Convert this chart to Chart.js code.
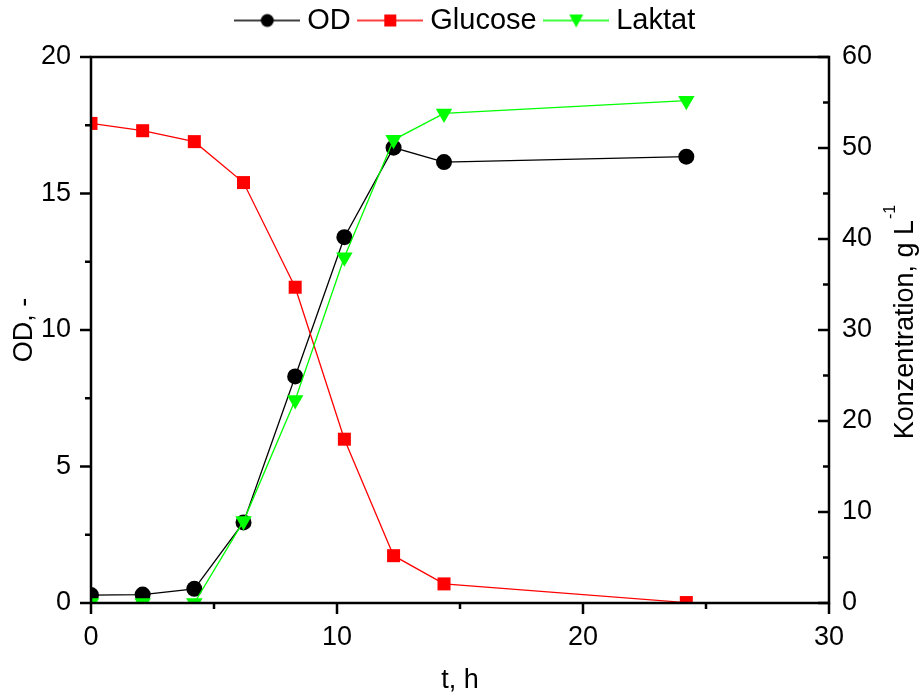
<!DOCTYPE html>
<html>
<head>
<meta charset="utf-8">
<script src="https://cdn.jsdelivr.net/npm/chart.js@4"></script>
<style>
  html, body { margin: 0; padding: 0; background: #fff; }
  #wrap { width: 919px; height: 697px; position: relative; }
</style>
</head>
<body>
<div id="wrap"><canvas id="kinetik"></canvas></div>
<script>
const zeitH = [0, 2.1, 4.2, 6.2, 8.3, 10.3, 12.3, 14.35, 24.2];
const odWerte = [0.29, 0.31, 0.52, 2.95, 8.3, 13.4, 16.68, 16.15, 16.35];
const glucoseWerte = [52.7, 51.9, 50.7, 46.2, 34.7, 18.0, 5.2, 2.1, 0.05];
const laktatWerte = [0, 0, 0, 9.0, 22.3, 38.0, 50.9, 53.8, 55.2];

// Achsenteilung
const xMinor = [5, 15, 25];
const odMinor = [2.5, 7.5, 12.5, 17.5];
const konzMinor = [5, 15, 25, 35, 45, 55];

const schrift = '"Liberation Sans", Arial, sans-serif';

const toPoints = (ys) => ys.map((y, i) => ({ x: zeitH[i], y }));

// Legendensymbol: Linie mit Marker in der Mitte
function legendIcon(color, shape) {
    const c = document.createElement('canvas');
    c.width = 66; c.height = 20;
    const ctx = c.getContext('2d');
    ctx.strokeStyle = color;
    ctx.fillStyle = color;
    ctx.lineWidth = 1.3;
    ctx.beginPath();
    ctx.moveTo(0, 10); ctx.lineTo(66, 10);
    ctx.stroke();
    ctx.beginPath();
    if (shape === 'circle') {
        ctx.arc(33, 10, 6.5, 0, Math.PI * 2);
    } else if (shape === 'rect') {
        ctx.rect(27, 4, 12, 12);
    } else {
        ctx.moveTo(26, 4); ctx.lineTo(40, 4); ctx.lineTo(33, 17); ctx.closePath();
    }
    ctx.fill();
    return c;
}
const legendIcons = [
    legendIcon('#000000', 'circle'),
    legendIcon('#ff0000', 'rect'),
    legendIcon('#00ff00', 'triangle')
];

// Legende: feste Hoehe, etwas verschoben
const legendBox = {
    id: 'legendBox',
    beforeInit(chart) {
        const lg = chart.legend;
        const fit = lg.fit;
        lg.fit = function () {
            fit.call(this);
            this.height = 57;
        };
        const draw = lg.draw;
        lg.draw = function (...args) {
            const { left, right, top } = this;
            this.left += 9; this.right += 9; this.top -= 8;
            draw.apply(this, args);
            this.left = left; this.right = right; this.top = top;
        };
    }
};

// Rahmen, Teilstriche und rechte Achsenbeschriftung wie im Original
const rahmen = {
    id: 'rahmen',
    afterDraw(chart) {
        const { ctx, chartArea: a, scales } = chart;
        ctx.save();
        ctx.strokeStyle = '#000';
        ctx.lineWidth = 2.5;
        ctx.lineCap = 'butt';
        const line = (x1, y1, x2, y2) => { ctx.beginPath(); ctx.moveTo(x1, y1); ctx.lineTo(x2, y2); ctx.stroke(); };

        scales.x.ticks.forEach(t => { const p = scales.x.getPixelForValue(t.value); line(p, a.bottom, p, a.bottom + 11); });
        xMinor.forEach(v => { const p = scales.x.getPixelForValue(v); line(p, a.bottom, p, a.bottom + 6); });

        scales.y.ticks.forEach(t => { const p = scales.y.getPixelForValue(t.value); line(a.left, p, a.left - 11, p); });
        odMinor.forEach(v => { const p = scales.y.getPixelForValue(v); line(a.left, p, a.left - 6, p); });

        scales.y1.ticks.forEach(t => { const p = scales.y1.getPixelForValue(t.value); line(a.right, p, a.right - 11, p); });
        konzMinor.forEach(v => { const p = scales.y1.getPixelForValue(v); line(a.right, p, a.right - 6, p); });

        ctx.strokeRect(a.left, a.top, a.right - a.left, a.bottom - a.top);

        // Titel rechts, von unten nach oben gelesen, mit Hochzahl
        const haupt = 'Konzentration, g L';
        const hoch = '-1';
        ctx.fillStyle = '#000';
        ctx.font = '27px ' + schrift;
        const wHaupt = ctx.measureText(haupt).width;
        ctx.font = '16px ' + schrift;
        const wHoch = ctx.measureText(hoch).width;
        const gesamt = wHaupt + 1 + wHoch;
        ctx.translate(chart.width - 16, (a.top + a.bottom) / 2 - 8);
        ctx.rotate(-Math.PI / 2);
        ctx.textBaseline = 'alphabetic';
        ctx.textAlign = 'left';
        ctx.font = '27px ' + schrift;
        ctx.fillText(haupt, -gesamt / 2, 9.7);
        ctx.font = '16px ' + schrift;
        ctx.fillText(hoch, -gesamt / 2 + wHaupt + 1, -8);
        ctx.restore();
    }
};

const ctx = document.getElementById('kinetik').getContext('2d');
new Chart(ctx, {
    type: 'line',
    data: {
        datasets: [
            {
                label: 'OD',
                data: toPoints(odWerte),
                yAxisID: 'y',
                borderColor: '#000000',
                backgroundColor: '#000000',
                borderWidth: 1.3,
                pointStyle: 'circle',
                pointRadius: 8,
                pointBorderWidth: 0,
                clip: 0,
                order: 2
            },
            {
                label: 'Glucose',
                data: toPoints(glucoseWerte),
                yAxisID: 'y1',
                borderColor: '#ff0000',
                backgroundColor: '#ff0000',
                borderWidth: 1.3,
                pointStyle: 'rect',
                pointRadius: 9.2,
                pointBorderWidth: 0,
                clip: 0,
                order: 1
            },
            {
                label: 'Laktat',
                data: toPoints(laktatWerte),
                yAxisID: 'y1',
                borderColor: '#00ff00',
                backgroundColor: '#00ff00',
                borderWidth: 1.3,
                pointStyle: 'triangle',
                pointRotation: 180,
                pointRadius: 9.5,
                pointBorderWidth: 0,
                clip: 0,
                order: 0
            }
        ]
    },
    options: {
        responsive: true,
        maintainAspectRatio: false,
        animation: false,
        layout: { padding: 0 },
        plugins: {
            tooltip: { enabled: false },
            legend: {
                position: 'top',
                labels: {
                    color: '#000',
                    font: { family: schrift, size: 29, lineHeight: 1 },
                    padding: 14,
                    usePointStyle: true,
                    pointStyleWidth: 51,
                    sort: (a, b) => a.datasetIndex - b.datasetIndex,
                    generateLabels(chart) {
                        const items = Chart.defaults.plugins.legend.labels.generateLabels(chart);
                        items.forEach(it => { it.pointStyle = legendIcons[it.datasetIndex]; it.rotation = 0; });
                        return items;
                    }
                }
            }
        },
        scales: {
            x: {
                type: 'linear',
                min: 0, max: 30,
                grid: { display: false, drawTicks: false },
                border: { display: false },
                ticks: { stepSize: 10, color: '#000', padding: 18, font: { family: schrift, size: 27 } },
                title: { display: true, text: 't, h', color: '#000', padding: { top: 4, bottom: 0 }, font: { family: schrift, size: 27 } },
                afterFit(s) { s.height = 94; }
            },
            y: {
                type: 'linear',
                position: 'left',
                min: 0, max: 20,
                grid: { display: false, drawTicks: false },
                border: { display: false },
                ticks: { stepSize: 5, color: '#000', padding: 20, font: { family: schrift, size: 27 } },
                title: { display: true, text: 'OD, -', color: '#000', padding: { top: 8, bottom: 0 }, font: { family: schrift, size: 27 } },
                afterFit(s) { s.width = 91; }
            },
            y1: {
                type: 'linear',
                position: 'right',
                min: 0, max: 60,
                grid: { display: false, drawTicks: false },
                border: { display: false },
                ticks: { stepSize: 10, color: '#000', padding: 13, font: { family: schrift, size: 27 } },
                title: { display: false },
                afterFit(s) { s.width = 90; }
            }
        }
    },
    plugins: [legendBox, rahmen]
});
</script>
</body>
</html>
